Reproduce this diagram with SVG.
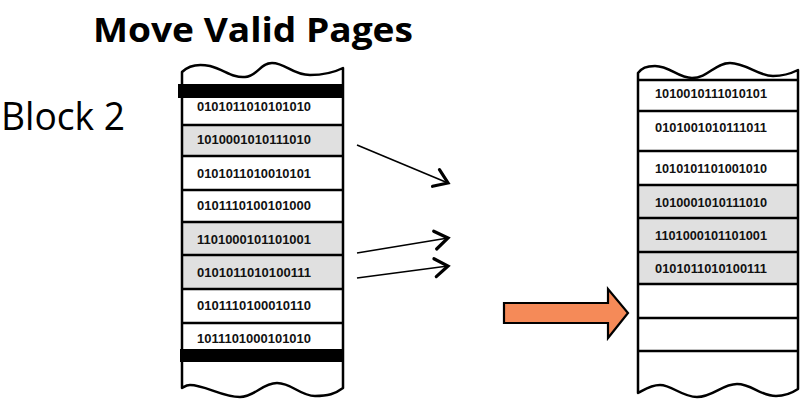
<svg xmlns="http://www.w3.org/2000/svg" width="805" height="403" viewBox="0 0 805 403">
<defs>
<style>
.edge{fill:none;stroke:#000;stroke-width:2.5;stroke-linejoin:round}
.div{stroke:#000;stroke-width:2.5}
.grey{fill:#e0e0e0}
.white{fill:#fff}
.bits{font-family:"Liberation Sans",Arial,sans-serif;font-weight:bold;font-size:12.5px;fill:#111}
.conn{fill:none;stroke:#000;stroke-width:1.6}
</style>
<marker id="chev" viewBox="0 0 12 12" refX="10" refY="6" markerWidth="12" markerHeight="12" markerUnits="userSpaceOnUse" orient="auto" overflow="visible">
<path d="M-3,-3 L10,6 L-3,15" fill="none" stroke="#000" stroke-width="3.2" stroke-linejoin="miter" stroke-linecap="round"/>
</marker>
</defs>
<rect width="805" height="403" fill="#fff"/>

<g id="title">
<text x="93" y="42" font-family="'Open Sans','Liberation Sans',Arial,sans-serif" font-weight="bold" font-size="34" textLength="320" lengthAdjust="spacingAndGlyphs" fill="#000">Move Valid Pages</text>
</g>

<g id="block2-label">
<text x="1" y="130" font-family="'Open Sans','Liberation Sans',Arial,sans-serif" font-size="38" textLength="124" lengthAdjust="spacingAndGlyphs" fill="#000">Block 2</text>
</g>

<g id="left-block">
<path class="white" d="M182,72 C188,66 196,63 210,66 C225,70 232,78 245,77 C258,76 260,63 272,63 C286,63 292,75 310,75 C325,75 335,72 343,68 L343,388 C335,394 328,396 315,396 C300,396 292,383 277,383 C262,383 255,397 240,397 C222,397 205,385 190,385 C186,385 184,387 182,388 Z"/>
<rect class="grey" x="182" y="125" width="161" height="31"/>
<rect class="grey" x="182" y="222" width="161" height="67"/>
<rect x="178" y="84" width="166" height="14" fill="#000"/>
<rect x="180" y="349" width="164" height="13" fill="#000"/>
<line class="div" x1="181" y1="125" x2="344" y2="125"/>
<line class="div" x1="181" y1="156" x2="344" y2="156"/>
<line class="div" x1="181" y1="190" x2="344" y2="190"/>
<line class="div" x1="181" y1="222" x2="344" y2="222"/>
<line class="div" x1="181" y1="255" x2="344" y2="255"/>
<line class="div" x1="181" y1="289" x2="344" y2="289"/>
<line class="div" x1="181" y1="323" x2="344" y2="323"/>
<path class="edge" d="M182,72 C188,66 196,63 210,66 C225,70 232,78 245,77 C258,76 260,63 272,63 C286,63 292,75 310,75 C325,75 335,72 343,68 L343,388 C335,394 328,396 315,396 C300,396 292,383 277,383 C262,383 255,397 240,397 C222,397 205,385 190,385 C186,385 184,387 182,388 Z"/>
<text class="bits" x="197" y="110.5" textLength="114" lengthAdjust="spacingAndGlyphs">0101011010101010</text>
<text class="bits" x="197" y="143.5" textLength="114" lengthAdjust="spacingAndGlyphs">1010001010111010</text>
<text class="bits" x="197" y="177.5" textLength="114" lengthAdjust="spacingAndGlyphs">0101011010010101</text>
<text class="bits" x="197" y="209.5" textLength="114" lengthAdjust="spacingAndGlyphs">0101110100101000</text>
<text class="bits" x="197" y="243.5" textLength="114" lengthAdjust="spacingAndGlyphs">1101000101101001</text>
<text class="bits" x="197" y="276.5" textLength="114" lengthAdjust="spacingAndGlyphs">0101011010100111</text>
<text class="bits" x="197" y="309.5" textLength="114" lengthAdjust="spacingAndGlyphs">0101110100010110</text>
<text class="bits" x="197" y="342.5" textLength="114" lengthAdjust="spacingAndGlyphs">1011101000101010</text>
</g>

<g id="right-block">
<path class="white" d="M638,73 C642,68 646,66 655,66 C670,66 678,78 692,78 C708,78 715,63 730,63 C746,63 758,76 773,76 C785,76 792,73 798,70 L798,389 C792,393 786,396 776,396 C760,396 752,384 737,384 C722,384 713,397 697,397 C682,397 672,385 660,385 C650,385 644,390 638,393 Z"/>
<rect class="grey" x="638" y="185" width="160" height="99"/>
<line class="div" x1="637" y1="80" x2="799" y2="80"/>
<line class="div" x1="637" y1="111" x2="799" y2="111"/>
<line class="div" x1="637" y1="151" x2="799" y2="151"/>
<line class="div" x1="637" y1="185" x2="799" y2="185"/>
<line class="div" x1="637" y1="218" x2="799" y2="218"/>
<line class="div" x1="637" y1="252" x2="799" y2="252"/>
<line class="div" x1="637" y1="284" x2="799" y2="284"/>
<line class="div" x1="637" y1="318" x2="799" y2="318"/>
<line class="div" x1="637" y1="351" x2="799" y2="351"/>
<path class="edge" d="M638,73 C642,68 646,66 655,66 C670,66 678,78 692,78 C708,78 715,63 730,63 C746,63 758,76 773,76 C785,76 792,73 798,70 L798,389 C792,393 786,396 776,396 C760,396 752,384 737,384 C722,384 713,397 697,397 C682,397 672,385 660,385 C650,385 644,390 638,393 Z"/>
<text class="bits" x="655" y="97.5" textLength="112" lengthAdjust="spacingAndGlyphs">1010010111010101</text>
<text class="bits" x="655" y="131.5" textLength="112" lengthAdjust="spacingAndGlyphs">0101001010111011</text>
<text class="bits" x="655" y="172.5" textLength="112" lengthAdjust="spacingAndGlyphs">1010101101001010</text>
<text class="bits" x="655" y="206.5" textLength="112" lengthAdjust="spacingAndGlyphs">1010001010111010</text>
<text class="bits" x="655" y="239.5" textLength="112" lengthAdjust="spacingAndGlyphs">1101000101101001</text>
<text class="bits" x="655" y="272.5" textLength="112" lengthAdjust="spacingAndGlyphs">0101011010100111</text>
</g>

<g id="connectors">
<line class="conn" x1="357" y1="145" x2="448" y2="183" marker-end="url(#chev)"/>
<line class="conn" x1="357" y1="253" x2="448" y2="238" marker-end="url(#chev)"/>
<line class="conn" x1="357" y1="278" x2="448" y2="266" marker-end="url(#chev)"/>
</g>

<g id="move-arrow">
<path d="M504,303 L608,303 L608,289 L628,313 L608,338 L608,323 L504,323 Z" fill="#f58a58" stroke="#000" stroke-width="2.2" stroke-linejoin="miter"/>
</g>
</svg>
